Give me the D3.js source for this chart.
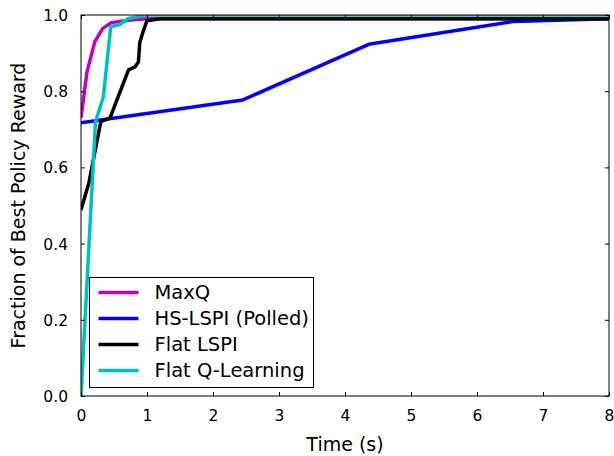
<!DOCTYPE html>
<html>
<head>
<meta charset="utf-8">
<script src="https://cdn.jsdelivr.net/npm/d3@7"></script>
<style>
  body { margin: 0; background: #fff; }
  svg text { font-family: "DejaVu Sans", sans-serif; fill: #000; }
</style>
</head>
<body>
<div id="chart"></div>
<script>
// series
const seriesNames = ['MaxQ', 'HS-LSPI (Polled)', 'Flat LSPI', 'Flat Q-Learning'];
const seriesColors = ['#bf00bf', '#0000ff', '#000000', '#00bfbf'];

const maxqTime   = [0, 0.09, 0.21, 0.33, 0.46, 0.75, 1.0, 8];
const maxqReward = [0.73, 0.85, 0.93, 0.965, 0.98, 0.987, 0.99, 0.99];

const hsTime   = [0, 2.45, 4.36, 6.55, 8];
const hsReward = [0.717, 0.777, 0.923, 0.983, 0.99];

const flatTime   = [0, 0.12, 0.3, 0.44, 0.72, 0.82, 0.87, 0.89, 0.94, 1.0, 1.2, 8];
const flatReward = [0.488, 0.56, 0.72, 0.73, 0.856, 0.864, 0.877, 0.927, 0.956, 0.985, 0.99, 0.99];

const qlTime   = [0, 0.22, 0.34, 0.45, 0.59, 0.72, 1.0, 8];
const qlReward = [0.0, 0.72, 0.786, 0.969, 0.975, 0.991, 1.0, 1.0];

const xTicks = [0, 1, 2, 3, 4, 5, 6, 7, 8];
const yTicks = [0.0, 0.2, 0.4, 0.6, 0.8, 1.0];

const width = 614, height = 456;
const margin = {left: 81, right: 5, top: 15, bottom: 60};

const series = [
    [maxqTime, maxqReward],
    [hsTime, hsReward],
    [flatTime, flatReward],
    [qlTime, qlReward]
].map(([t, r], i) => ({
    name: seriesNames[i],
    color: seriesColors[i],
    values: t.map((x, j) => ({x, y: r[j]}))
}));

const x = d3.scaleLinear().domain([0, 8]).range([margin.left, width - margin.right]);
const y = d3.scaleLinear().domain([0, 1]).range([height - margin.bottom, margin.top]);

const svg = d3.select('#chart').append('svg')
    .attr('width', width).attr('height', height);

svg.append('defs').append('clipPath').attr('id', 'plot-clip')
  .append('rect')
    .attr('x', x(0)).attr('y', y(1))
    .attr('width', x(8) - x(0)).attr('height', y(0) - y(1));

const line = d3.line().x(d => x(d.x)).y(d => y(d.y));

svg.append('g').attr('clip-path', 'url(#plot-clip)')
  .selectAll('path')
  .data(series)
  .join('path')
    .attr('d', d => line(d.values))
    .attr('fill', 'none')
    .attr('stroke', d => d.color)
    .attr('stroke-width', 3.5)
    .attr('stroke-linejoin', 'round');

// axes: ticks point inward on all four sides
const tickLen = 4;
const axisB = svg.append('g').attr('transform', `translate(0,${y(0)})`)
    .call(d3.axisBottom(x).tickValues(xTicks).tickFormat(d3.format('d'))
        .tickSizeInner(-tickLen).tickSizeOuter(0).tickPadding(14));
const axisT = svg.append('g').attr('transform', `translate(0,${y(1)})`)
    .call(d3.axisTop(x).tickValues(xTicks).tickFormat('')
        .tickSizeInner(-tickLen).tickSizeOuter(0));
const axisL = svg.append('g').attr('transform', `translate(${x(0)},0)`)
    .call(d3.axisLeft(y).tickValues(yTicks).tickFormat(d3.format('.1f'))
        .tickSizeInner(-tickLen).tickSizeOuter(0).tickPadding(13));
const axisR = svg.append('g').attr('transform', `translate(${x(8)},0)`)
    .call(d3.axisRight(y).tickValues(yTicks).tickFormat('')
        .tickSizeInner(-tickLen).tickSizeOuter(0));

[axisB, axisT, axisL, axisR].forEach(a => {
    a.select('.domain').remove();
    a.selectAll('.tick line').attr('stroke', '#000').attr('stroke-width', 1);
    a.selectAll('.tick text')
        .attr('font-family', '"DejaVu Sans", sans-serif')
        .attr('font-size', 15.5).attr('fill', '#000');
});
axisL.selectAll('.tick text').attr('dy', '0.36em');

svg.append('rect')
    .attr('x', x(0)).attr('y', y(1))
    .attr('width', x(8) - x(0)).attr('height', y(0) - y(1))
    .attr('fill', 'none').attr('stroke', '#000').attr('stroke-width', 1);

svg.append('text')
    .attr('x', (x(0) + x(8)) / 2).attr('y', 451)
    .attr('text-anchor', 'middle').attr('font-size', 19)
    .text('Time (s)');

svg.append('text')
    .attr('transform', `translate(25,${(y(0) + y(1)) / 2}) rotate(-90)`)
    .attr('text-anchor', 'middle').attr('font-size', 19)
    .text('Fraction of Best Policy Reward');

// legend
const lg = svg.append('g').attr('transform', 'translate(89.5,277.5)');
lg.append('rect')
    .attr('width', 224).attr('height', 110)
    .attr('fill', '#fff').attr('stroke', '#000').attr('stroke-width', 1);
const item = lg.selectAll('g.item').data(series).join('g')
    .attr('class', 'item')
    .attr('transform', (d, i) => `translate(0,${15 + i * 26})`);
item.append('line')
    .attr('x1', 9).attr('x2', 49)
    .attr('stroke', d => d.color).attr('stroke-width', 3.5);
item.append('text')
    .attr('x', 65).attr('dy', '0.35em')
    .attr('font-size', 19.5)
    .text(d => d.name);
</script>
</body>
</html>
